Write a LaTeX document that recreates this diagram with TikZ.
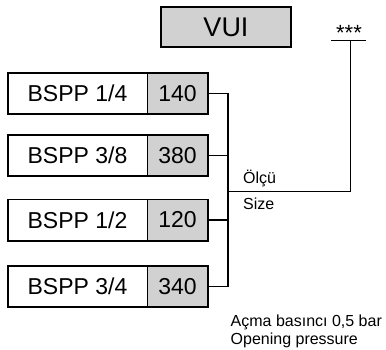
\documentclass[tikz,border=0pt]{standalone}
\usepackage{fontspec}
\setmainfont{Liberation Sans}
\begin{document}
\begin{tikzpicture}[x=1pt,y=-1pt,
        sizebox/.style={inner sep=0pt,minimum width=139pt,minimum height=41pt,font=\fontsize{23}{23}\selectfont},
        codebox/.style={inner sep=0pt,fill=black!18,minimum width=61pt,minimum height=41pt,font=\fontsize{23}{23}\selectfont},
        frame/.style={line width=1.6pt},
        wire/.style={line width=1.3pt},
        note/.style={inner sep=0pt,anchor=base west,font=\fontsize{16}{16}\selectfont}]
        \useasboundingbox (0,0) rectangle (386,349);
        \draw (226,27) node[draw,line width=2.6pt,fill=black!18,minimum width=130pt,minimum height=40pt,inner sep=0pt,font=\fontsize{27}{27}\selectfont] (vui) {VUI};
        \draw (77.5,93.5)  node[sizebox] (s1) {BSPP 1/4};
        \draw (177.5,93.5) node[codebox] (c1) {140};
        \draw (77.5,155.5)  node[sizebox] (s2) {BSPP 3/8};
        \draw (177.5,155.5) node[codebox] (c2) {380};
        \draw (77.5,220)  node[sizebox] (s3) {BSPP 1/2};
        \draw (177.5,220) node[codebox] (c3) {120};
        \draw (77.5,286.5)  node[sizebox] (s4) {BSPP 3/4};
        \draw (177.5,286.5) node[codebox] (c4) {340};
        \draw[frame] (s1.north west) rectangle (c1.south east);
        \draw[frame] (s2.north west) rectangle (c2.south east);
        \draw[frame] (s3.north west) rectangle (c3.south east);
        \draw[frame] (s4.north west) rectangle (c4.south east);
        \draw[thin] (c1.north west) -- (c1.south west)
              (c2.north west) -- (c2.south west)
              (c3.north west) -- (c3.south west)
              (c4.north west) -- (c4.south west);
        \coordinate (top) at (228,93.5);
        \coordinate (bot) at (228,286.5);
        \coordinate (mid) at (228,191.5);
        \coordinate (corner) at (350.5,191.5);
        \coordinate (bar) at (350.5,40.5);
        \draw[wire] (c1.east) -- (top) -- (bot) -- (c4.east)
              (c2.east) -- (c2.east -| top)
              (c3.east) -- (c3.east -| top)
              (mid) -- (corner) -- (bar);
        \draw[wire] (331,40.5) -- (366,40.5);
        \node[inner sep=0pt,anchor=base,font=\fontsize{22}{22}\selectfont] (stars) at (349,40.5) {***};
        \node[note] (olcu) at (243,183) {Ölçü};
        \node[note] (size) at (243,209.5) {Size};
        \node[note] (acma) at (230.5,326.5) {Açma basıncı 0,5 bar};
        \node[note] (open) at (230.5,344) {Opening pressure};
\end{tikzpicture}
\end{document}
